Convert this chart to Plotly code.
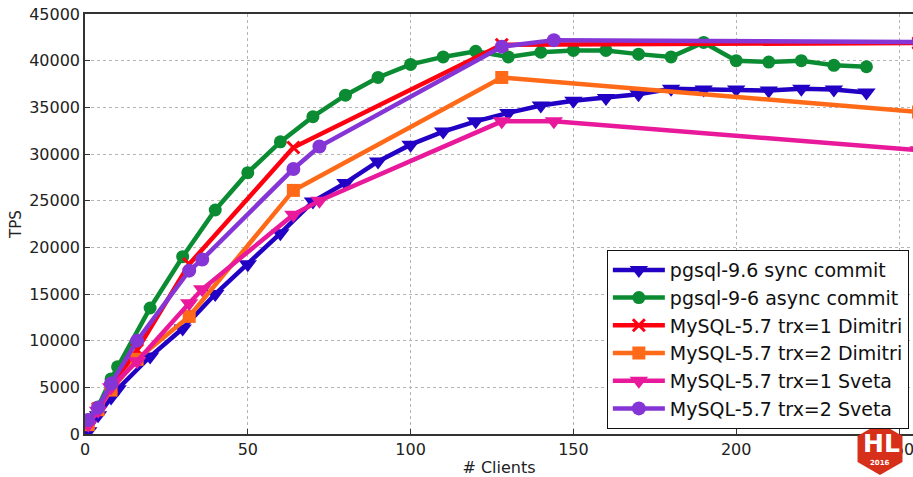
import plotly.graph_objects as go

# ---------------- data ----------------
sync_x = [1, 4, 8, 10, 20, 30, 40, 50, 60, 70, 80, 90, 100, 110, 120, 130, 140,
          150, 160, 170, 180, 190, 200, 210, 220, 230, 240]
sync_y = [300, 2000, 3900, 4800, 8300, 11300, 15000, 18200, 21500, 24900, 26900,
          29200, 31000, 32400, 33500, 34400, 35200, 35700, 36000, 36400, 37000,
          36900, 36900, 36800, 37000, 36900, 36600]

async_x = [1, 4, 8, 10, 20, 30, 40, 50, 60, 70, 80, 90, 100, 110, 120, 130, 140,
           150, 160, 170, 180, 190, 200, 210, 220, 230, 240]
async_y = [1500, 2900, 5900, 7200, 13500, 19000, 24000, 28000, 31300, 34000, 36300,
           38200, 39600, 40400, 41000, 40400, 40900, 41100, 41100, 40700, 40400,
           41950, 40000, 39850, 40000, 39500, 39350]

dim1_x = [1, 4, 8, 16, 32, 64, 128, 256]
dim1_y = [1200, 2700, 5000, 9000, 18200, 30700, 41700, 41900]

dim2_x = [1, 4, 8, 16, 32, 64, 128, 256]
dim2_y = [1000, 2600, 4700, 8000, 12600, 26100, 38200, 34500]

sv1_x = [1, 4, 8, 16, 32, 36, 64, 72, 128, 144, 256]
sv1_y = [1000, 2500, 5000, 7800, 14000, 15500, 23500, 25000, 33500, 33500, 30400]

sv2_x = [1, 4, 8, 16, 32, 36, 64, 72, 128, 144, 256]
sv2_y = [1500, 2800, 5400, 10000, 17500, 18700, 28400, 30800, 41500, 42200, 42000]

x_ticks = [0, 50, 100, 150, 200, 250]
y_ticks = [0, 5000, 10000, 15000, 20000, 25000, 30000, 35000, 40000, 45000]

series = [
    ("pgsql-9.6 sync commit", sync_x, sync_y, "#2200c4", "triangle-down", 16),
    ("pgsql-9-6 async commit", async_x, async_y, "#0b8c32", "circle", 13),
    ("MySQL-5.7 trx=1 Dimitri", dim1_x, dim1_y, "#ff0010", "x-thin", 12),
    ("MySQL-5.7 trx=2 Dimitri", dim2_x, dim2_y, "#ff6a18", "square", 13),
    ("MySQL-5.7 trx=1 Sveta", sv1_x, sv1_y, "#e8199a", "triangle-down", 16),
    ("MySQL-5.7 trx=2 Sveta", sv2_x, sv2_y, "#8535d6", "circle", 14),
]

fig = go.Figure()
for name, xs, ys, col, sym, sz in series:
    fig.add_trace(go.Scatter(
        x=xs, y=ys, name=name, mode="lines+markers",
        line=dict(color=col, width=4.5),
        marker=dict(color=col, symbol=sym, size=sz,
                    line=dict(color=col, width=3 if sym == "x-thin" else 0)),
    ))

font = "DejaVu Sans, Liberation Sans, sans-serif"
fig.update_layout(
    width=913, height=477,
    margin=dict(l=85, r=0, t=14, b=43),
    paper_bgcolor="white", plot_bgcolor="white",
    font=dict(family=font, size=16, color="#222222"),
    showlegend=True,
    legend=dict(
        x=0.995, y=0.438, xanchor="right", yanchor="top",
        bgcolor="white", bordercolor="#111111", borderwidth=1,
        font=dict(family=font, size=19, color="#111111"),
        itemwidth=52, tracegroupgap=0,
    ),
    xaxis=dict(
        range=[0, 254.3], tickvals=x_ticks, ticktext=[str(v) for v in x_ticks],
        showgrid=True, gridcolor="#b5b5b5", griddash="dot", gridwidth=1,
        showline=True, linecolor="#333333", linewidth=1.5, mirror=True,
        ticks="inside", ticklen=5, tickcolor="#333333",
        zeroline=False, ticklabeloverflow="allow",
        title=dict(text="# Clients", font=dict(size=16, family=font), standoff=8),
        tickfont=dict(size=16),
    ),
    yaxis=dict(
        range=[0, 45000], tickvals=y_ticks, ticktext=[str(v) for v in y_ticks],
        showgrid=True, gridcolor="#b5b5b5", griddash="dot", gridwidth=1,
        showline=True, linecolor="#333333", linewidth=1.5,
        ticks="inside", ticklen=5, tickcolor="#333333",
        zeroline=False,
        title=dict(text="TPS", font=dict(size=15, family=font), standoff=4),
        tickfont=dict(size=16),
    ),
)

# HL 2016 logo (decoration, bottom-right corner), placed in pixel terms
pw, ph = 913 - 85, 477 - 14 - 43
def px(xp):
    return (xp - 85) / pw
def py(yp):
    return (477 - 43 - yp) / ph
cx, cy, r = 880, 449, 26
pts = [(cx, cy - r), (cx + 22.5, cy - r / 2), (cx + 22.5, cy + r / 2),
       (cx, cy + r), (cx - 22.5, cy + r / 2), (cx - 22.5, cy - r / 2)]
p = "M " + " L ".join("{:.4f} {:.4f}".format(px(a), py(b)) for a, b in pts) + " Z"
fig.add_shape(type="path", path=p, xref="paper", yref="paper",
              fillcolor="#d6301a", line=dict(width=0), layer="above")
fig.add_annotation(x=px(881), y=py(444), xref="paper", yref="paper", text="<b>HL</b>",
                   xanchor="center", yanchor="middle",
                   showarrow=False, font=dict(family=font, size=25, color="white"))
fig.add_annotation(x=px(880), y=py(463), xref="paper", yref="paper", text="<b>2016</b>",
                   xanchor="center", yanchor="middle",
                   showarrow=False, font=dict(family=font, size=7, color="white"))

fig.write_html("out.html")
